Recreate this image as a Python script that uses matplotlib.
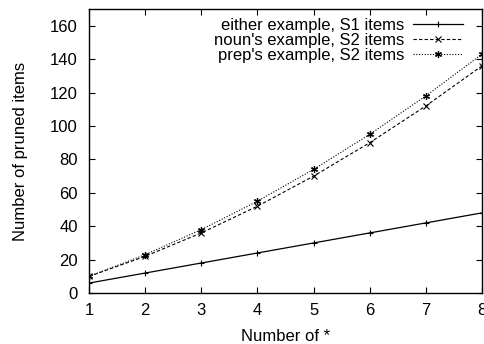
import matplotlib
matplotlib.use("Agg")
import matplotlib.pyplot as plt

x = [1, 2, 3, 4, 5, 6, 7, 8]
either = [6, 12, 18, 24, 30, 36, 42, 48]
noun = [10, 22, 36, 52, 70, 90, 112, 136]
prep = [10, 23, 38, 55, 74, 95, 118, 143]
labels = ["either example, S1 items", "noun's example, S2 items", "prep's example, S2 items"]

plt.rcParams['font.family'] = ['Liberation Sans', 'DejaVu Sans']
plt.rcParams['font.size'] = 12

fig = plt.figure(figsize=(4.84, 3.44), dpi=100)
ax = fig.add_axes([0.184, 0.148, 0.812, 0.826])

ax.plot(x, either, color='black', lw=0.9, ls='-', marker='+', ms=5, mew=0.8, label=labels[0])
ax.plot(x, noun, color='black', lw=0.8, ls=(0, (3, 2)), marker='x', ms=4.5, mew=0.8, label=labels[1])
ax.plot(x, prep, color='black', lw=0.8, ls=(0, (1, 1.5)), marker=(6, 2, 0), ms=5, mew=0.9, label=labels[2])

ax.set_xlim(1, 8)
ax.set_ylim(0, 170)
ax.set_xticks(x)
ax.set_yticks(range(0, 161, 20))
ax.tick_params(direction='in', top=True, right=True, length=4, width=0.8)
ax.tick_params(axis='y', pad=8)
ax.tick_params(axis='x', pad=7)
for s in ax.spines.values():
    s.set_linewidth(1.0)
ax.set_xlabel("Number of *", labelpad=8)
ax.set_ylabel("Number of pruned items", labelpad=16)

leg = ax.legend(loc='upper right', frameon=False, markerfirst=False, handlelength=3.0,
                borderaxespad=0.15, borderpad=0.4, labelspacing=0.0, handletextpad=0.5,
                bbox_to_anchor=(0.975, 1.0))

fig.savefig("out.png", dpi=100)
